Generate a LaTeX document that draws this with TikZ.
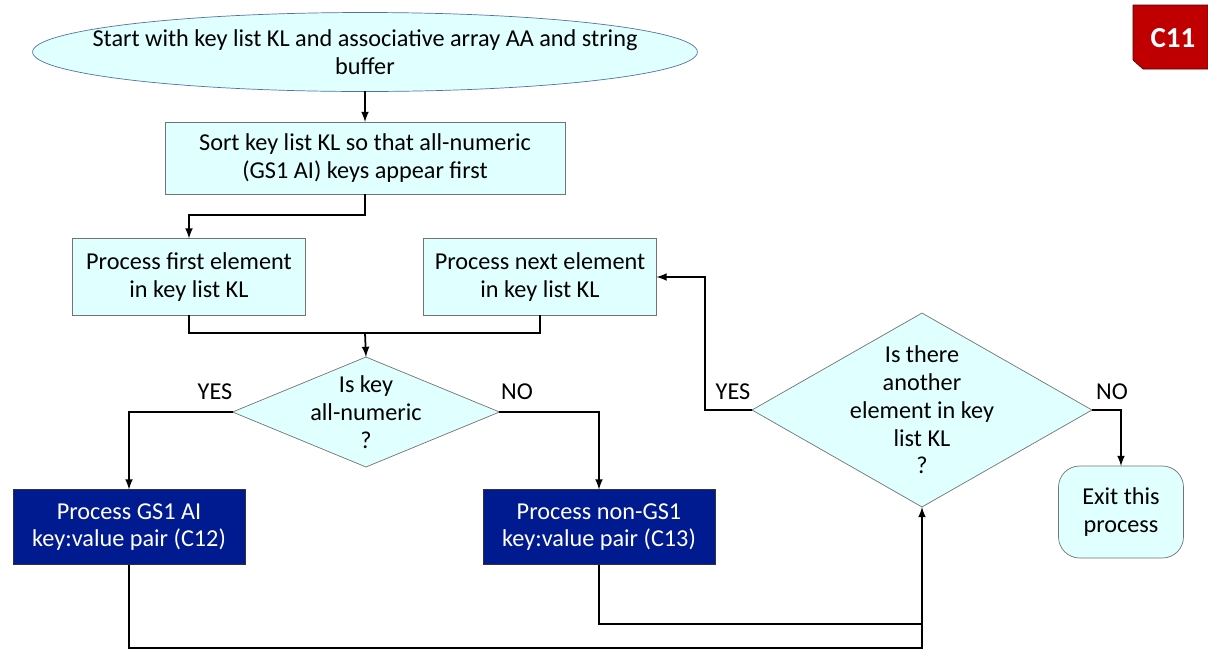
\documentclass[tikz,border=0pt]{standalone}
\usepackage{fontspec}
\setmainfont{Carlito}
\usepackage{tikz}
\usepackage{xcolor}
\usetikzlibrary{calc,shapes.geometric}

\definecolor{boxfill}{RGB}{224,255,255}
\definecolor{boxline}{RGB}{115,115,115}
\definecolor{ovalline}{RGB}{84,112,170}
\definecolor{darkbox}{RGB}{0,26,143}
\definecolor{tagred}{RGB}{192,0,0}

\begin{document}
\begin{tikzpicture}[x=0.02cm,y=-0.02cm]
        \tikzstyle{every node}=[font=\fontsize{13.8}{15.8}\selectfont, outer sep=0pt]
        \tikzstyle{lightbox}=[draw=boxline, fill=boxfill, align=center, inner sep=0pt]
        \tikzstyle{bluebox}=[draw=black!80, fill=darkbox, text=white, align=center, inner sep=0pt, minimum width=4.64cm, minimum height=1.5cm]
        \tikzstyle{ask}=[diamond, draw=boxline, fill=boxfill, inner sep=0pt]
        \tikzstyle{arr}=[line width=1pt, -latex]
        \tikzstyle{ln}=[line width=1pt]
        \useasboundingbox (0,0) rectangle (1208,650);

        % tag
        \fill[tagred, draw=black!60!tagred] (1133,5) -- (1208,5) -- (1208,69) -- (1143,69) -- (1133,60) -- cycle;
        \node[text=white, font=\fontsize{16.5}{19}\bfseries] (0) at (1173,38) {C11};

        \node[ellipse, draw=ovalline, fill=boxfill, minimum width=13.3cm, minimum height=1.58cm, inner sep=0pt] (1) at (365,52) {};
        \node[align=center] (1t) at (1) {Start with key list KL and associative array AA and string\\buffer};
        \node[lightbox, minimum width=8cm, minimum height=1.44cm] (2) at (365,158) {Sort key list KL so that all-numeric\\(GS1 AI) keys appear first};
        \node[lightbox, minimum width=4.66cm, minimum height=1.54cm] (3) at (189,277) {Process first element\\in key list KL};
        \node[lightbox, minimum width=4.66cm, minimum height=1.54cm] (4) at (540,277) {Process next element\\in key list KL};

        \node[ask, minimum width=5.34cm, minimum height=2.2cm] (5) at (366,412) {};
        \node[align=center] (5t) at (5) {Is key\\all-numeric\\?};
        \node[bluebox] (6) at (129,527) {Process GS1 AI\\key:value pair (C12)};
        \node[bluebox] (7) at (599,527) {Process non-GS1\\key:value pair (C13)};

        \node[ask, minimum width=6.8cm, minimum height=3.88cm] (8) at (922,410) {};
        \node[align=center] (8t) at (8) {Is there\\another\\element in key\\list KL\\?};
        \node[lightbox, rounded corners=12pt, minimum width=2.5cm, minimum height=1.84cm] (9) at (1121,512) {Exit this\\process};

        \node (10) at (215,392) {YES};
        \node (11) at (517,392) {NO};
        \node (12) at (733,392) {YES};
        \node (13) at (1112,392) {NO};

        \coordinate (j1) at (365,333);
        \coordinate (j2) at (922,648);
        \coordinate (j3) at (922,624);

        \draw[arr] (1) to (2);
        \draw[arr] (2.south) -- ++(0,21) -| (3.north);
        \draw[ln] (3.south) |- (j1) -| (4.south);
        \draw[arr] (j1) to (5.north);
        \draw[arr] (5.west) -| (6.north);
        \draw[arr] (5.east) -| (7.north);
        \draw[arr] (8.west) -- ++(-47,0) |- (4.east);
        \draw[arr] (8.east) -| (9.north);
        \draw[arr] (6.south) |- (j2) -- (8.south);
        \draw[ln] (7.south) |- (j3);
    \end{tikzpicture}
\end{document}
